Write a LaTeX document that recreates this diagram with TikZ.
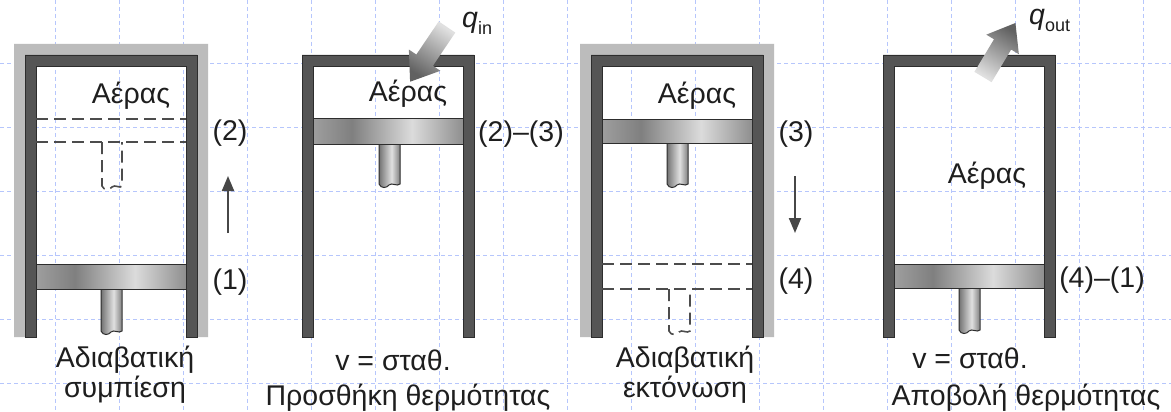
\documentclass[tikz,border=0pt]{standalone}
\usepackage{fontspec}
\setmainfont{Liberation Sans}
\usepackage{tikz}
\usetikzlibrary{arrows.meta}

\definecolor{walldark}{RGB}{85, 85, 85}
\definecolor{wallline}{RGB}{45, 45, 45}
\definecolor{insulgray}{RGB}{188, 188, 188}
\definecolor{gridblue}{RGB}{182, 198, 252}
\definecolor{inkgray}{RGB}{30, 30, 30}

% metal look of piston and rod (interesting part between 25bp and 75bp)
\pgfdeclarehorizontalshading{pistonmetal}{100bp}{color(0bp)=(black!38); color(25bp)=(black!38); color(38bp)=(black!50); color(58bp)=(black!14); color(75bp)=(black!44); color(100bp)=(black!44)}
\pgfdeclarehorizontalshading{rodmetal}{100bp}{color(0bp)=(black!55); color(25bp)=(black!55); color(55bp)=(black!12); color(75bp)=(black!50); color(100bp)=(black!50)}

\tikzset{
  gridline/.style={draw=gridblue, line width=0.7pt, dash pattern=on 4pt off 3pt},
  wall/.style={fill=walldark, draw=wallline, line width=0.8pt},
  insul/.style={fill=insulgray},
  piston/.style={shading=pistonmetal, draw=wallline, line width=1pt},
  rod/.style={shading=rodmetal, draw=wallline, line width=1pt},
  ghost/.style={draw=black!70, line width=1.6pt, dash pattern=on 12pt off 6pt},
  motion/.style={draw=black!72, line width=2pt, -{Triangle[length=15pt, width=12pt]}},
  lbl/.style={font=\fontsize{28.5}{31}\selectfont, text=inkgray, inner sep=0pt}
}

\begin{document}
\begin{tikzpicture}[x=1pt, y=-1pt]
  \useasboundingbox (0,0) rectangle (1171,412);
  \fill[white] (0,0) rectangle (1171,412);

  % background grid
  \foreach \gx in {55,119,...,1143} \draw[gridline] (\gx,0) -- (\gx,412);
  \foreach \gy in {63,127,...,383} \draw[gridline] (0,\gy) -- (1171,\gy);

  % 1. adiabatic compression
  \fill[insul] (14,337) -- (14,44) -- (208,44) -- (208,337) -- (197,337) -- (197,55) -- (25,55) -- (25,337) -- cycle;
  \draw[wall] (25,337) -- (25,55) -- (197,55) -- (197,337) -- (186,337) -- (186,66) -- (36,66) -- (36,337) -- cycle;
  \draw[ghost] (36,119) -- (186,119);
  \draw[ghost] (36,142) -- (186,142);
  \draw[ghost] (102,142) -- (102,186) .. controls (104,191) and (110,190) .. (112,187) .. controls (115,184) and (120,189) .. (122,186) -- (122,142);
  \draw[rod] (101,289) -- (101,331) .. controls (103,336) and (109,335) .. (111,332) .. controls (114,329) and (119,334) .. (122,331) -- (122,289);
  \draw[piston] (36,264) rectangle (186,289);
  \node[lbl, anchor=base] (air1) at (131,103) {Αέρας};
  \node[lbl, anchor=base] (st2) at (230,140) {(2)};
  \node[lbl, anchor=base] (st1) at (230,289) {(1)};
  \coordinate (up1s) at (228,233);
  \coordinate (up1e) at (228,176);
  \draw[motion] (up1s) -- (up1e);
  \node[lbl, anchor=base] (cap1a) at (125,367) {Αδιαβατική};
  \node[lbl, anchor=base] (cap1b) at (125,397) {συμπίεση};

  % 2. heat addition at constant volume
  \draw[wall] (302,337) -- (302,55) -- (474,55) -- (474,337) -- (463,337) -- (463,66) -- (313,66) -- (313,337) -- cycle;
  \draw[rod] (379,144) -- (379,184) .. controls (381,189) and (387,188) .. (389,185) .. controls (392,182) and (397,187) .. (400,184) -- (400,144);
  \draw[piston] (313,118) rectangle (463,144);
  \begin{scope}[shift={(447,27)}, rotate=-124]
    \shade[top color=black!12, bottom color=black!62, shading angle=-34]
      (0,-10) -- (40,-10) -- (40,-19) -- (66,0) -- (40,19) -- (40,10) -- (0,10) -- cycle;
  \end{scope}
  \node[lbl, anchor=base west] (qin) at (462,28) {\textit{q}\raisebox{-7pt}{\fontsize{18}{18}\selectfont in}};
  \node[lbl, anchor=base] (air2) at (408,102) {Αέρας};
  \node[lbl, anchor=base] (st23) at (521,141) {(2)–(3)};
  \node[lbl, anchor=base] (cap2a) at (393,370) {v = σταθ.};
  \node[lbl, anchor=base] (cap2b) at (408,405) {Προσθήκη θερμότητας};

  % 3. adiabatic expansion
  \fill[insul] (580,337) -- (580,44) -- (774,44) -- (774,337) -- (763,337) -- (763,55) -- (591,55) -- (591,337) -- cycle;
  \draw[wall] (591,337) -- (591,55) -- (763,55) -- (763,337) -- (752,337) -- (752,66) -- (602,66) -- (602,337) -- cycle;
  \draw[rod] (667,143) -- (667,184) .. controls (669,189) and (675,188) .. (677,185) .. controls (680,182) and (685,187) .. (688,184) -- (688,143);
  \draw[piston] (602,119) rectangle (752,143);
  \draw[ghost] (602,264) -- (752,264);
  \draw[ghost] (602,289) -- (752,289);
  \draw[ghost] (669,289) -- (669,331) .. controls (671,336) and (677,335) .. (679,332) .. controls (682,329) and (687,334) .. (690,331) -- (690,289);
  \node[lbl, anchor=base] (air3) at (697,103) {Αέρας};
  \node[lbl, anchor=base] (st3) at (796,142) {(3)};
  \node[lbl, anchor=base] (st4) at (796,288) {(4)};
  \coordinate (dn3s) at (795,176);
  \coordinate (dn3e) at (795,233);
  \draw[motion] (dn3s) -- (dn3e);
  \node[lbl, anchor=base] (cap3a) at (685,367) {Αδιαβατική};
  \node[lbl, anchor=base] (cap3b) at (685,397) {εκτόνωση};

  % 4. heat rejection at constant volume
  \draw[wall] (883,337) -- (883,55) -- (1055,55) -- (1055,337) -- (1044,337) -- (1044,66) -- (894,66) -- (894,337) -- cycle;
  \draw[rod] (959,288) -- (959,330) .. controls (961,335) and (967,334) .. (969,331) .. controls (972,328) and (977,333) .. (980,330) -- (980,288);
  \draw[piston] (894,264) rectangle (1044,288);
  \begin{scope}[shift={(983,77)}, rotate=59]
    \shade[top color=black!62, bottom color=black!12, shading angle=-31]
      (0,-10) -- (38,-10) -- (38,-19) -- (63,0) -- (38,19) -- (38,10) -- (0,10) -- cycle;
  \end{scope}
  \node[lbl, anchor=base west] (qout) at (1029,25) {\textit{q}\raisebox{-7pt}{\fontsize{18}{18}\selectfont out}};
  \node[lbl, anchor=base] (air4) at (987,183) {Αέρας};
  \node[lbl, anchor=base] (st41) at (1102,287) {(4)–(1)};
  \node[lbl, anchor=base] (cap4a) at (970,368) {v = σταθ.};
  \node[lbl, anchor=base] (cap4b) at (1026,405) {Αποβολή θερμότητας};
\end{tikzpicture}
\end{document}
